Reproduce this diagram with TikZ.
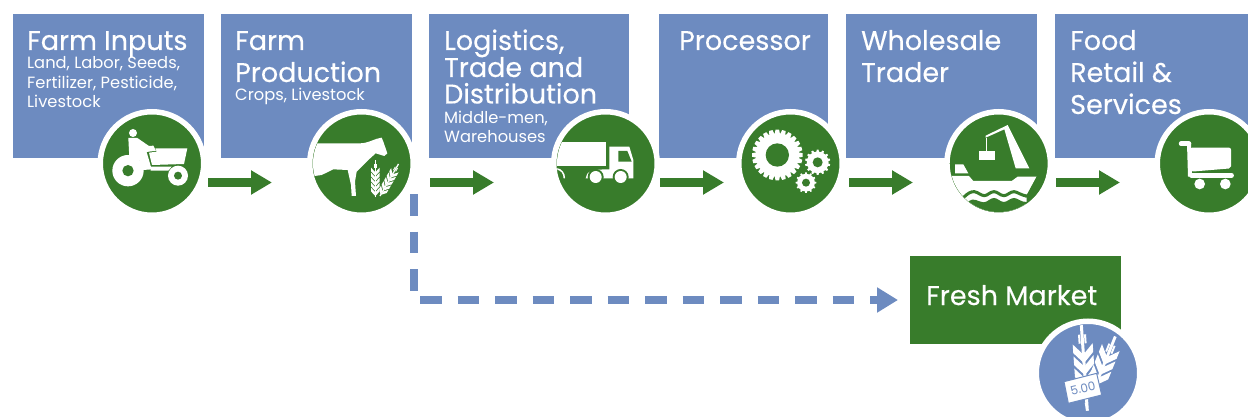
\documentclass[tikz,border=0pt]{standalone}
\usepackage{fontspec}
\setmainfont{Poppins}
\newfontfamily\headfont[FakeBold=0.25]{Poppins}
\usetikzlibrary{arrows.meta}
\definecolor{vcblue}{HTML}{6D8BC0}
\definecolor{vcgreen}{HTML}{387C2B}
\lineskiplimit=-100pt
\newcommand\ttl[2][32]{\baselineskip=#1pt\hbox{\headfont\fontsize{27}{30}\selectfont #2}}
\newcommand\subl[2][19.5]{\baselineskip=#1pt\hbox{\fontsize{16.3}{19}\selectfont #2}}
\newcommand\gearwheel[5]{%
  \fill[white] (#1,#2) circle[radius=0.86*#3];
  \foreach \i in {1,...,#5}{
    \fill[white,rotate around={\i*360/#5:(#1,#2)}]
      (#1-0.11*#3,#2+0.8*#3) -- (#1-0.07*#3,#2+#3) -- (#1+0.07*#3,#2+#3) -- (#1+0.11*#3,#2+0.8*#3) -- cycle;
  }
  \fill[vcgreen] (#1,#2) circle[radius=#4];
}
% wheat: foot x, foot y, rotation, scale, total length, leaf distances
\newcommand\wheatear[6]{%
  \begin{scope}[shift={(#1,#2)},rotate=#3,scale=#4]
    \draw[white,line width=#4*3pt] (0,0) -- (0,-#5);
    \draw[white,line width=#4*2pt] (-9,-#5+55) -- (-9,-#5+28) (9,-#5+55) -- (9,-#5+28);
    \foreach \d in {#6}{
      \fill[white] (3,-\d+2) -- (30,-\d-27) -- (30,-\d-1) -- (3,-\d+28) -- cycle;
      \fill[white] (-3,-\d+2) -- (-30,-\d-27) -- (-30,-\d-1) -- (-3,-\d+28) -- cycle;
    }
  \end{scope}
}
\tikzset{
  box/.style={fill=vcblue,anchor=north west,inner sep=0pt,outer sep=0pt},
  badge/.style={circle,fill=vcgreen,draw=white,line width=5.5pt,minimum size=103.5pt,inner sep=0pt,outer sep=0pt},
  caption/.style={anchor=base west,inner sep=0pt,text=white},
  flow/.style={vcgreen,line width=9pt,-{Triangle[length=21pt,width=23pt]}},
  side/.style={vcblue,line width=8pt,dash pattern=on 21.5pt off 16pt,-{Triangle[length=21pt,width=24pt]}},
  zoomed/.style 2 args={shift={(#1,#2)},x=0.33333pt,y=-0.33333pt}
}
\begin{document}
\begin{tikzpicture}[x=1pt,y=-1pt]
\useasboundingbox (0,0) rectangle (1248,417);
\clip (0,0) rectangle (1248,417);
% boxes
\node[box,minimum width=191pt,minimum height=144pt] (b1) at (13,14) {};
\node[box,minimum width=191pt,minimum height=144pt] (b2) at (221,14) {};
\node[box,minimum width=200pt,minimum height=144pt] (b3) at (429,14) {};
\node[box,minimum width=169pt,minimum height=144pt] (b4) at (659,14) {};
\node[box,minimum width=191pt,minimum height=144pt] (b5) at (846,14) {};
\node[box,minimum width=193pt,minimum height=144pt] (b6) at (1055,14) {};
\node[box,fill=vcgreen,minimum width=211pt,minimum height=88pt] (fresh) at (910,256) {};
% captions
\node[caption] (t1) at (27,50) {\vtop{\ttl{Farm Inputs}\subl[19]{Land, Labor, Seeds,}\subl{Fertilizer, Pesticide,}\subl{Livestock}}};
\node[caption] (t2) at (235,50) {\vtop{\ttl{Farm}\ttl{Production}\subl[19]{Crops, Livestock}}};
\node[caption] (t3) at (444,50) {\vtop{\ttl{Logistics,}\ttl[27]{Trade and}\ttl[26.5]{Distribution}\subl[20]{Middle-men,}\subl[19]{Warehouses}}};
\node[caption] (t4) at (679,50) {\vtop{\ttl{Processor}}};
\node[caption] (t5) at (861,50) {\vtop{\ttl{Wholesale}\ttl{Trader}}};
\node[caption] (t6) at (1070,50) {\vtop{\ttl{Food}\ttl{Retail \&}\ttl{Services}}};
\node[caption] (t7) at (926,305) {\vtop{\ttl{Fresh Market}}};
% badges
\node[badge] (c1) at (152,163.5) {};
\node[badge] (c2) at (361.5,163.5) {};
\node[badge] (c3) at (605.5,163.5) {};
\node[badge] (c4) at (790.5,163.5) {};
\node[badge] (c5) at (998.7,163.5) {};
\node[badge] (c6) at (1209,163.5) {};
\node[badge,fill=vcblue] (c7) at (1088,373) {};
% arrows
\coordinate (s1) at (208,182.5); \coordinate (e1) at (272,182.5);
\coordinate (s2) at (430,182.5); \coordinate (e2) at (494,182.5);
\coordinate (s3) at (660,182.5); \coordinate (e3) at (724,182.5);
\coordinate (s4) at (849,182.5); \coordinate (e4) at (913,182.5);
\coordinate (s5) at (1056,182.5); \coordinate (e5) at (1120,182.5);
\draw[flow] (s1) -- (e1);
\draw[flow] (s2) -- (e2);
\draw[flow] (s3) -- (e3);
\draw[flow] (s4) -- (e4);
\draw[flow] (s5) -- (e5);
\coordinate (dstart) at (413.5,194);
\draw[side,shorten >=12pt] (dstart) |- (fresh.west);
% tractor
\begin{scope}[zoomed={0}{0}]
  \fill[white] (399,399) circle[radius=12];
  \fill[white] (385,414) -- (412,414) -- (447,438) -- (460,437) -- (468,452) -- (440,456) -- (455,508) -- (430,510) -- (418,480) -- (388,474) -- cycle;
  \fill[white] (466,445) -- (562,445) -- (552,492) -- (456,495) -- (447,458) -- (470,455) -- cycle;
  \fill[white] (452,500) -- (515,500) -- (505,512) -- (452,512) -- cycle;
  \fill[white] (384,512) circle[radius=47];
  \fill[vcgreen] (384,512) circle[radius=17];
  \fill[white] (534,527) circle[radius=30];
  \fill[vcgreen] (534,527) circle[radius=12];
\end{scope}
% cow and wheat
\begin{scope}
  \clip (c2.center) circle[radius=48.5];
  \begin{scope}[zoomed={305}{110}]
    \fill[white] (15,100) -- (165,100) .. controls (190,100) and (210,85) .. (230,83) -- (235,95) -- (247,130) -- (238,138) -- (212,130) -- (190,150) -- (155,185) -- (150,215) -- (153,258) -- (140,258) -- (138,225) -- (128,180) -- (85,178) -- (50,195) -- (15,200) -- cycle;
    \wheatear{211}{262}{0}{0.43}{258}{40,75,110,145,180}
    \wheatear{225}{258}{-30}{0.43}{258}{40,75,110,145,180}
  \end{scope}
\end{scope}
% truck
\begin{scope}
  \clip (c3.center) circle[radius=48.5];
  \begin{scope}[zoomed={420}{0}]
    \fill[white] (400,425) rectangle (558,497);
    \fill[white] (568,440) -- (628,440) -- (640,480) -- (640,535) -- (497,535) .. controls (500,515) and (510,508) .. (568,508) -- cycle;
    \fill[vcgreen] (595,453) -- (622,453) -- (635,485) -- (595,485) -- cycle;
    \fill[vcgreen] (527,531) circle[radius=24];
    \fill[vcgreen] (602,531) circle[radius=24];
    \fill[white] (527,531) circle[radius=18];
    \fill[white] (602,531) circle[radius=18];
    \draw[white,line width=1.5pt] (408,506) .. controls (425,508) and (433,520) .. (433,535);
  \end{scope}
\end{scope}
% gears
\begin{scope}[zoomed={420}{0}]
  \gearwheel{1072}{465}{76}{35}{24}
  \gearwheel{1193}{487}{38}{15}{14}
  \gearwheel{1158}{548}{31}{12}{12}
\end{scope}
% ship
\begin{scope}
  \clip (c5.center) circle[radius=48.5];
  \begin{scope}[zoomed={945}{110}]
    \fill[white] (122,77) -- (188,45) -- (253,175) -- (212,175) -- (178,58) -- (122,83) -- cycle;
    \draw[white,line width=1pt] (125,85) -- (125,122);
    \fill[white] (102,122) rectangle (150,150);
    \fill[white] (30,163) -- (55,163) -- (70,190) -- (30,190) -- cycle;
    \fill[white] (0,198) -- (72,198) -- (85,213) -- (200,213) -- (218,200) -- (275,200) -- (245,258) -- (245,320) -- (0,320) -- cycle;
    \draw[vcgreen,line width=3pt] (55,263) .. controls (68,250) and (78,244) .. (88,245) .. controls (100,247) and (108,257) .. (118,257) .. controls (128,257) and (135,245) .. (147,245) .. controls (158,245) and (165,257) .. (177,257) .. controls (187,257) and (195,245) .. (207,245) .. controls (218,245) and (228,258) .. (250,258);
    \fill[vcgreen] (275,200) -- (330,200) -- (330,262) -- (240,262) -- (245,255) -- cycle;
    \fill[vcgreen] (72,273) .. controls (85,262) and (100,275) .. (115,277) .. controls (128,277) and (135,264) .. (147,264) .. controls (158,264) and (165,276) .. (177,276) .. controls (187,276) and (195,264) .. (207,264) .. controls (218,264) and (228,277) .. (245,276) -- (330,274) -- (330,330) -- (72,330) -- cycle;
  \end{scope}
\end{scope}
% cart
\begin{scope}[zoomed={828}{0}]
  \draw[white,line width=4.5pt,line cap=round] (1059,431) -- (1083,431);
  \draw[white,line width=4pt] (1083,431) -- (1086,530);
  \fill[white,rounded corners=2pt] (1086,443) -- (1209,443) -- (1209,505) -- (1090,515) -- cycle;
  \draw[white,line width=4.5pt,line cap=round] (1090,526) -- (1211,526);
  \fill[white] (1115,552) circle[radius=16];
  \fill[white] (1192,552) circle[radius=16];
\end{scope}
% fresh market wheat and tag
\begin{scope}
  \clip (c7.center) circle[radius=48.5];
  \begin{scope}[zoomed={880}{250}]
    \wheatear{633}{440}{-22}{0.95}{205}{70,105,140}
    \wheatear{622}{482}{4}{1}{257}{102,138,174}
    \fill[white,draw=vcblue,line width=1pt] (552,395) -- (650,370) -- (665,435) -- (565,460) -- cycle;
    \draw[white,line width=2pt] (617,458) -- (622,482);
    \node[rotate=13,text=vcblue,inner sep=0pt,font=\fontsize{12}{14}\selectfont] (price) at (609,415) {5.00};
  \end{scope}
\end{scope}
\end{tikzpicture}
\end{document}
